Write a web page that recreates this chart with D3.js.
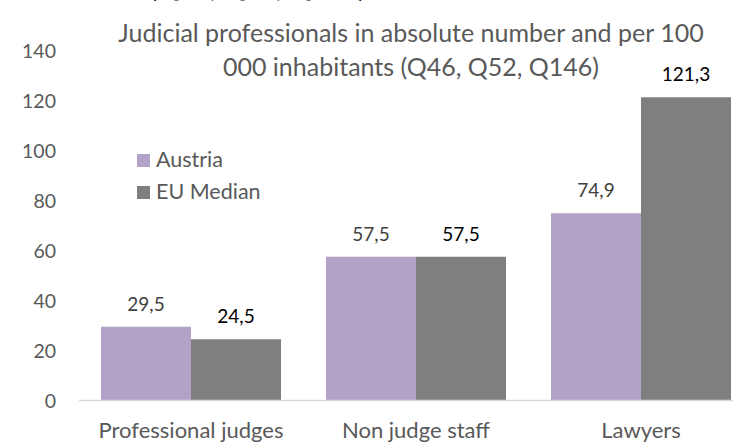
<!DOCTYPE html>
<html>
<head>
<meta charset="utf-8">
<script src="https://cdn.jsdelivr.net/npm/d3@7"></script>
<style>
  body { margin: 0; background: #fff; overflow: hidden; }
  text { font-family: Lato, "Open Sans", sans-serif; }
</style>
</head>
<body>
<div id="chart"></div>
<script>
const categories = ['Professional judges', 'Non judge staff', 'Lawyers'];
const seriesNames = ['Austria', 'EU Median'];
const austria = [29.5, 57.5, 74.9];
const euMedian = [24.5, 57.5, 121.3];
const yTicks = [0, 20, 40, 60, 80, 100, 120, 140];
const titleLines = ['Judicial professionals in absolute number and per 100', '000 inhabitants (Q46, Q52, Q146)'];
const cutTitle = '(Q46, Q52, Q146)';

const color = ['#b3a2c7', '#7f7f7f'];
const labelColor = ['#404040', '#000000'];

const width = 733;
const height = 443;

const svg = d3.select("#chart").append("svg")
    .attr("width", width)
    .attr("height", height);

const xScale = d3.scaleBand()
    .domain(categories)
    .range([78.5, 753.5])
    .paddingInner(0.2)
    .paddingOuter(0.1);
const xSub = d3.scaleBand()
    .domain(seriesNames)
    .range([0, xScale.bandwidth()]);
const yScale = d3.scaleLinear()
    .domain([0, 140])
    .range([400.5, 50.5]);

// data as rows
var data = [];
for (var i = 0; i < categories.length; i++) {
    data.push({cat: categories[i], values: [austria[i], euMedian[i]]});
}

// y axis (labels only)
const yAxis = d3.axisLeft(yScale).tickValues(yTicks).tickSize(0).tickPadding(0);
svg.append("g")
    .attr("transform", "translate(56,0)")
    .call(yAxis)
    .call(g => g.select(".domain").remove())
    .call(g => g.selectAll(".tick text")
        .attr("font-family", "Lato, sans-serif")
        .attr("font-size", "19.5px")
        .attr("fill", "#595959")
        .attr("dy", "0.35em"));

// bars
const groups = svg.selectAll(".grp")
    .data(data)
    .enter().append("g")
    .attr("class", "grp")
    .attr("transform", d => "translate(" + xScale(d.cat) + ",0)");

groups.selectAll("rect")
    .data(d => d.values.map((v, j) => ({name: seriesNames[j], value: v, j: j})))
    .enter().append("rect")
    .attr("x", d => xSub(d.name))
    .attr("y", d => yScale(d.value))
    .attr("width", xSub.bandwidth())
    .attr("height", d => yScale(0) - yScale(d.value))
    .attr("fill", d => color[d.j]);

groups.selectAll(".val")
    .data(d => d.values.map((v, j) => ({name: seriesNames[j], value: v, j: j})))
    .enter().append("text")
    .attr("class", "val")
    .attr("x", d => xSub(d.name) + xSub.bandwidth() / 2)
    .attr("y", d => yScale(d.value) - 16)
    .attr("text-anchor", "middle")
    .attr("font-size", "19px")
    .attr("fill", d => labelColor[d.j])
    .text(d => d3.format(".1f")(d.value).replace(".", ","));

// x axis line
svg.append("line")
    .attr("x1", 79).attr("x2", width)
    .attr("y1", yScale(0)).attr("y2", yScale(0))
    .attr("stroke", "#d9d9d9")
    .attr("stroke-width", 1.5);

// category labels
svg.selectAll(".cat")
    .data(categories)
    .enter().append("text")
    .attr("class", "cat")
    .attr("x", d => xScale(d) + xScale.bandwidth() / 2)
    .attr("y", 438)
    .attr("text-anchor", "middle")
    .attr("font-size", "22px")
    .attr("fill", "#595959")
    .text(d => d);

// legend
const legend = svg.selectAll(".leg")
    .data(seriesNames)
    .enter().append("g")
    .attr("class", "leg")
    .attr("transform", (d, i) => "translate(137," + (154 + i * 32) + ")");
legend.append("rect")
    .attr("width", 13).attr("height", 13)
    .attr("fill", (d, i) => color[i]);
legend.append("text")
    .attr("x", 19).attr("y", 13)
    .attr("font-size", "21.5px")
    .attr("fill", "#595959")
    .text(d => d);

// chart title
svg.selectAll(".title")
    .data(titleLines)
    .enter().append("text")
    .attr("class", "title")
    .attr("x", 411)
    .attr("y", (d, i) => 42 + i * 34)
    .attr("text-anchor", "middle")
    .attr("font-size", "25px")
    .attr("fill", "#595959")
    .text(d => d);

// bottom of the cropped heading above the chart
svg.append("text")
    .attr("x", 150)
    .attr("y", -3)
    .attr("font-size", "27px")
    .attr("font-weight", "bold")
    .attr("fill", "#000")
    .text(cutTitle);
</script>
</body>
</html>
